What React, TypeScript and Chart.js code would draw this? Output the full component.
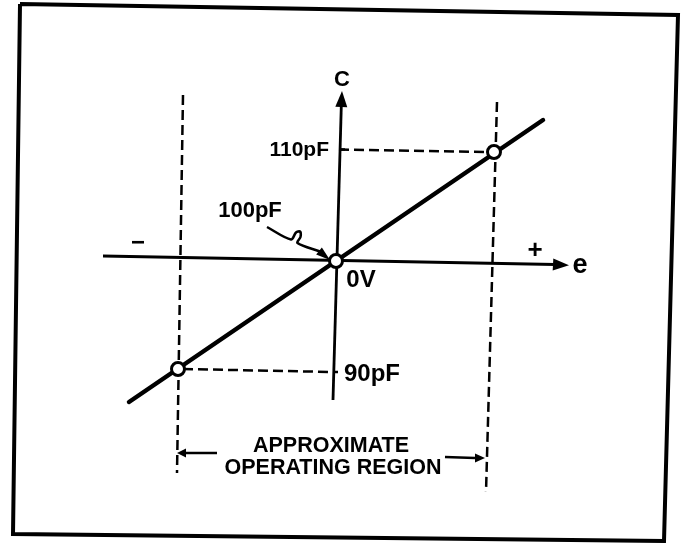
import React, { useEffect, useRef } from "react";
import { Chart, registerables } from "chart.js";

Chart.register(...registerables);

const W = 683;
const H = 543;

// Drawing-plane coordinates (x to the right, y downward)
const frameX = [20, 678, 664, 13, 20];
const frameY = [4, 15, 541, 534, 4];

const eAxisX = [103, 555];
const eAxisY = [256, 264.5];

const cAxisX = [333, 341.3];
const cAxisY = [400, 106];

const lineX = [129, 543];
const lineY = [402, 120];

const leftDashX = [183, 177];
const leftDashY = [95, 473];
const rightDashX = [497, 486];
const rightDashY = [102, 492];

const upperDashX = [339, 489];
const upperDashY = [149.5, 152];
const lowerDashX = [183, 333];
const lowerDashY = [369, 372];

const upperTickX = [339, 345];
const upperTickY = [149.5, 149.5];
const lowerTickX = [333, 338];
const lowerTickY = [372, 372];

const markX = [336, 178, 494];
const markY = [261, 369, 152];

const regionLeftX = [217, 186];
const regionLeftY = [453, 453];
const regionRightX = [445, 475];
const regionRightY = [457, 458];

const squiggleX = [267, 291, 296, 300, 300.5, 297.5, 320];
const squiggleY = [227, 239.5, 232.5, 231.5, 237, 243, 251.5];

// arrowheads: base point -> tip point
const arrowBaseX = [553, 341.3, 186, 475, 319];
const arrowBaseY = [264.4, 107, 453, 458, 251];
const arrowTipX = [569, 342, 177, 485, 330];
const arrowTipY = [265.2, 91, 453, 458, 260];
const arrowHalfWidth = [6, 6, 4.5, 4.5, 4.5];

const labelText = ["C", "110pF", "100pF", "\u2212", "+", "e", "0V", "90pF", "APPROXIMATE", "OPERATING REGION"];
const labelX = [342, 329, 250, 138, 535, 580, 361, 372, 331, 333];
const labelY = [80, 150, 211, 243, 251, 266, 280, 374, 446, 468];
const labelAlign = ["center", "right", "center", "center", "center", "center", "center", "center", "center", "center"];
const labelSize = [22, 21, 22, 24, 26, 27, 24, 24, 21.5, 21.5];

const pts = (xs: number[], ys: number[]) => xs.map((x, i) => ({ x, y: ys[i] }));

const arrowPlugin = {
  id: "arrowheads",
  afterDatasetsDraw(chart: any) {
    const { ctx, scales } = chart;
    const sx = scales.x, sy = scales.y;
    ctx.save();
    ctx.fillStyle = "#000";
    for (let i = 0; i < arrowTipX.length; i++) {
      const bx = sx.getPixelForValue(arrowBaseX[i]);
      const by = sy.getPixelForValue(arrowBaseY[i]);
      const tx = sx.getPixelForValue(arrowTipX[i]);
      const ty = sy.getPixelForValue(arrowTipY[i]);
      const dx = tx - bx, dy = ty - by;
      const len = Math.hypot(dx, dy) || 1;
      const nx = -dy / len, ny = dx / len;
      const hw = arrowHalfWidth[i];
      ctx.beginPath();
      ctx.moveTo(tx, ty);
      ctx.lineTo(bx + nx * hw, by + ny * hw);
      ctx.lineTo(bx - nx * hw, by - ny * hw);
      ctx.closePath();
      ctx.fill();
    }
    ctx.restore();
  },
};

const labelPlugin = {
  id: "labels",
  afterDraw(chart: any) {
    const { ctx, scales } = chart;
    ctx.save();
    ctx.fillStyle = "#000";
    ctx.textBaseline = "middle";
    for (let i = 0; i < labelText.length; i++) {
      ctx.font = `bold ${labelSize[i]}px "Liberation Sans", Arial, sans-serif`;
      ctx.textAlign = labelAlign[i] as CanvasTextAlign;
      ctx.fillText(labelText[i], scales.x.getPixelForValue(labelX[i]), scales.y.getPixelForValue(labelY[i]));
    }
    ctx.restore();
  },
};

export default function App() {
  const ref = useRef<HTMLCanvasElement | null>(null);

  useEffect(() => {
    document.body.style.margin = "0";
    const canvas = ref.current;
    if (!canvas) return;

    const solid = (data: any[], width: number, extra: any = {}) => ({
      data,
      showLine: true,
      borderColor: "#000",
      borderWidth: width,
      pointRadius: 0,
      pointHoverRadius: 0,
      fill: false,
      borderCapStyle: "butt",
      ...extra,
    });
    const dashed = (data: any[]) => solid(data, 2.5, { borderDash: [10, 5] });

    const chart = new Chart(canvas, {
      type: "scatter",
      data: {
        datasets: [
          {
            data: pts(markX, markY),
            showLine: false,
            pointRadius: 6.5,
            pointHoverRadius: 6.5,
            pointBorderWidth: 3,
            pointBorderColor: "#000",
            pointBackgroundColor: "#fff",
          } as any,
          solid(pts(lineX, lineY), 4.5, { borderCapStyle: "round" }),
          solid(pts(eAxisX, eAxisY), 2.8),
          solid(pts(cAxisX, cAxisY), 2.8),
          dashed(pts(leftDashX, leftDashY)),
          dashed(pts(rightDashX, rightDashY)),
          dashed(pts(upperDashX, upperDashY)),
          dashed(pts(lowerDashX, lowerDashY)),
          solid(pts(upperTickX, upperTickY), 2.5),
          solid(pts(lowerTickX, lowerTickY), 2.5),
          solid(pts(regionLeftX, regionLeftY), 2.5),
          solid(pts(regionRightX, regionRightY), 2.5),
          solid(pts(squiggleX, squiggleY), 2.5, { tension: 0.3 }),
          solid(pts(frameX, frameY), 4, { borderJoinStyle: "miter" }),
        ],
      },
      options: {
        animation: false,
        responsive: false,
        maintainAspectRatio: false,
        layout: { padding: 0, autoPadding: false },
        events: [],
        plugins: {
          legend: { display: false },
          tooltip: { enabled: false },
          title: { display: false },
        },
        scales: {
          x: { type: "linear", min: 0, max: W, display: false },
          y: { type: "linear", min: 0, max: H, reverse: true, display: false },
        },
      },
      plugins: [arrowPlugin, labelPlugin],
    } as any);

    return () => chart.destroy();
  }, []);

  return (
    <div style={{ width: W, height: H, background: "#fff" }}>
      <canvas ref={ref} width={W} height={H} style={{ display: "block" }} />
    </div>
  );
}
